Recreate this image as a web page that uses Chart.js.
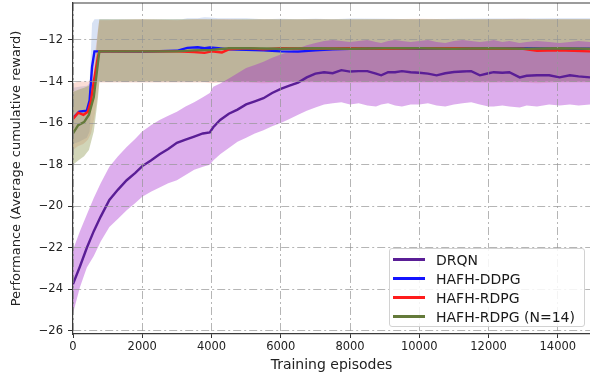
<!DOCTYPE html>
<html>
<head>
<meta charset="utf-8">
<script src="https://cdn.jsdelivr.net/npm/chart.js@4.4.1/dist/chart.umd.min.js"></script>
<style>
  body { margin: 0; background: #fff; }
  #wrap { position: relative; width: 590px; height: 377px; }
  #legend { position: absolute; left: 389px; top: 248px; width: 196px; height: 79px; box-sizing: border-box;
    border: 1px solid #d2d2d2; border-radius: 3px; background: rgba(255,255,255,0.85);
    font: 14px "DejaVu Sans", sans-serif; color: #1a1a1a; padding-top: 1px; }
  .item { height: 19px; display: flex; align-items: center; white-space: nowrap; }
  .swatch { width: 32px; height: 3px; margin-left: 3px; margin-right: 11px; }
</style>
</head>
<body>
<div id="wrap">
  <canvas id="chart" width="590" height="377"></canvas>
  <div id="legend"></div>
</div>
<script>
// values (episode -> average cumulative reward)

var drqnEpisodes = [0, 200, 400, 600, 800, 1050, 1300, 1550, 1800, 2000, 2250, 2500, 2750, 3000, 3250, 3500, 3750, 3950, 4050, 4250, 4500, 4750, 5000, 5250, 5500, 5750, 6000, 6250, 6500, 6750, 7000, 7250, 7500, 7750, 8000, 8250, 8500, 8750, 8900, 9100, 9300, 9500, 9750, 10000, 10250, 10500, 10750, 11000, 11250, 11500, 11750, 12000, 12150, 12400, 12600, 12900, 13100, 13400, 13750, 14050, 14350, 14600, 14930];
var drqnMean = [-23.75, -22.9, -22.0, -21.2, -20.5, -19.7, -19.2, -18.75, -18.4, -18.07, -17.8, -17.5, -17.25, -16.95, -16.8, -16.65, -16.5, -16.45, -16.2, -15.85, -15.55, -15.35, -15.1, -14.95, -14.8, -14.55, -14.35, -14.2, -14.05, -13.8, -13.62, -13.55, -13.6, -13.45, -13.52, -13.5, -13.5, -13.62, -13.7, -13.55, -13.55, -13.5, -13.55, -13.58, -13.62, -13.7, -13.6, -13.54, -13.52, -13.5, -13.7, -13.6, -13.55, -13.58, -13.55, -13.8, -13.72, -13.7, -13.7, -13.8, -13.7, -13.75, -13.8];
var drqnUpper = [-22.1, -21.2, -20.4, -19.6, -18.9, -18.1, -17.6, -17.15, -16.75, -16.4, -16.1, -15.85, -15.65, -15.45, -15.2, -15.0, -14.75, -14.55, -14.25, -14.1, -13.85, -13.6, -13.35, -13.2, -13.05, -12.85, -12.7, -12.55, -12.4, -12.25, -12.15, -12.05, -12.0, -12.05, -12.1, -12.05, -12.0, -12.1, -12.15, -12.05, -12.0, -12.05, -12.1, -12.05, -12.0, -12.1, -12.15, -12.05, -12.0, -12.05, -12.1, -12.05, -12.0, -12.1, -12.05, -12.15, -12.1, -12.05, -12.1, -12.15, -12.1, -12.05, -12.1];
var drqnLower = [-25.15, -23.9, -22.95, -22.4, -21.7, -21.0, -20.6, -20.2, -19.85, -19.55, -19.3, -19.1, -18.9, -18.75, -18.5, -18.25, -18.1, -18.0, -17.8, -17.5, -17.2, -16.9, -16.7, -16.5, -16.35, -16.15, -16.0, -15.8, -15.6, -15.4, -15.25, -15.1, -15.05, -15.0, -15.1, -15.05, -15.15, -15.2, -15.1, -15.05, -15.15, -15.2, -15.1, -15.1, -15.05, -15.15, -15.2, -15.1, -15.05, -15.0, -15.1, -15.2, -15.2, -15.15, -15.2, -15.25, -15.15, -15.2, -15.1, -15.15, -15.1, -15.15, -15.1];

var ddpgEpisodes = [0, 180, 400, 480, 550, 620, 1000, 2000, 3000, 3150, 3300, 3600, 3800, 3950, 4200, 4500, 5000, 5500, 6000, 6500, 7000, 7500, 8000, 9000, 10000, 11000, 12000, 13000, 14000, 14930];
var ddpgMean = [-15.75, -15.45, -15.4, -14.9, -13.3, -12.55, -12.55, -12.56, -12.52, -12.45, -12.38, -12.35, -12.4, -12.36, -12.4, -12.45, -12.47, -12.5, -12.55, -12.56, -12.5, -12.45, -12.42, -12.4, -12.42, -12.4, -12.42, -12.4, -12.42, -12.42];
var ddpgUpper = [-14.3, -14.25, -14.2, -14.1, -11.2, -11.0, -11.0, -11.02, -11.0, -11.0, -10.95, -10.95, -10.9, -10.92, -10.95, -10.95, -10.95, -11.0, -10.98, -11.0, -10.98, -11.0, -10.97, -10.98, -11.0, -10.98, -10.97, -10.96, -10.95, -10.95];
var ddpgLower = [-17.0, -16.9, -16.7, -16.4, -14.5, -14.0, -14.0, -14.0, -14.0, -14.02, -14.0, -13.98, -14.0, -14.0, -14.0, -13.98, -14.0, -14.0, -14.02, -14.0, -14.0, -14.0, -14.0, -14.0, -14.02, -14.0, -14.0, -14.0, -14.0, -14.0];

var rdpgEpisodes = [0, 150, 300, 430, 520, 610, 720, 760, 1000, 2000, 3000, 3500, 3800, 4000, 4300, 4500, 5000, 5500, 6000, 7000, 8000, 9000, 10000, 11000, 12000, 13000, 13400, 14000, 14930];
var rdpgMean = [-15.8, -15.5, -15.6, -15.45, -14.9, -13.9, -12.8, -12.55, -12.55, -12.55, -12.55, -12.58, -12.62, -12.55, -12.6, -12.45, -12.4, -12.45, -12.4, -12.42, -12.4, -12.42, -12.4, -12.4, -12.42, -12.42, -12.52, -12.5, -12.55];
var rdpgUpper = [-14.1, -14.0, -14.0, -14.0, -13.9, -13.0, -11.5, -11.05, -11.05, -11.0, -11.05, -11.0, -11.0, -11.02, -11.0, -11.0, -11.03, -11.0, -11.02, -11.0, -11.02, -11.0, -10.98, -11.0, -11.0, -10.98, -11.0, -11.0, -11.0];
var rdpgLower = [-17.3, -17.1, -17.0, -16.8, -16.5, -15.8, -14.6, -14.05, -14.05, -14.05, -14.05, -14.05, -14.05, -14.08, -14.05, -14.05, -14.05, -14.08, -14.05, -14.05, -14.06, -14.05, -14.05, -14.05, -14.06, -14.05, -14.08, -14.05, -14.05];

var n14Episodes = [0, 150, 320, 460, 600, 720, 760, 1000, 2000, 3000, 3500, 4000, 4500, 5000, 6000, 7000, 8000, 9000, 10000, 11000, 12000, 13000, 14000, 14930];
var n14Mean = [-16.5, -16.1, -15.95, -15.6, -14.75, -13.1, -12.55, -12.55, -12.55, -12.55, -12.5, -12.48, -12.4, -12.4, -12.42, -12.4, -12.42, -12.4, -12.4, -12.42, -12.4, -12.42, -12.4, -12.42];
var n14Upper = [-14.5, -14.4, -14.3, -14.2, -13.8, -11.6, -11.0, -11.0, -11.0, -11.0, -11.0, -11.0, -11.02, -11.0, -11.0, -11.0, -11.0, -11.0, -11.0, -11.0, -11.0, -11.0, -11.0, -11.0];
var n14Lower = [-18.0, -17.8, -17.6, -17.3, -16.4, -14.8, -14.0, -14.0, -14.0, -14.0, -14.0, -14.0, -14.0, -14.0, -14.0, -14.0, -14.0, -14.0, -14.0, -14.0, -14.0, -14.0, -14.0, -14.0];

var seriesNames = ["DRQN", "HAFH-DDPG", "HAFH-RDPG", "HAFH-RDPG (N=14)"];
var lineColors = ["#5a1e96", "#1414ff", "#ff1c1c", "#647a3a"];
var xTicks = [0, 2000, 4000, 6000, 8000, 10000, 12000, 14000];
var yTicks = [-26, -24, -22, -20, -18, -16, -14, -12];

function pts(xs, ys) {
    return xs.map(function (x, i) { return {x: x, y: ys[i]}; });
}

function line(i, xs, ys, order) {
    return {label: seriesNames[i], data: pts(xs, ys), borderColor: lineColors[i], backgroundColor: lineColors[i],
        borderWidth: 2.4, pointRadius: 0, fill: false, order: order};
}

function band(xs, ys, color, fill, order) {
    return {label: "", data: pts(xs, ys), borderColor: "transparent", borderWidth: 0, backgroundColor: color,
        pointRadius: 0, fill: fill, order: order};
}

var frame = {
    id: "frame",
    afterDraw: function (c) {
        var a = c.chartArea, ctx = c.ctx;
        ctx.save();
        ctx.strokeStyle = "#3a3a3a";
        ctx.lineWidth = 1.2;
        ctx.beginPath();
        ctx.moveTo(a.left, a.top);
        ctx.lineTo(a.right, a.top);
        ctx.stroke();
        ctx.restore();
    }
};

var font = "'DejaVu Sans', sans-serif";

var chart = new Chart(document.getElementById("chart").getContext("2d"), {
    type: "line",
    data: {
        datasets: [
            line(0, drqnEpisodes, drqnMean, 3),
            line(1, ddpgEpisodes, ddpgMean, 2),
            line(2, rdpgEpisodes, rdpgMean, 1),
            line(3, n14Episodes, n14Mean, 0),
            band(drqnEpisodes, drqnUpper, "rgba(160,30,205,0.36)", "+1", 4),
            band(drqnEpisodes, drqnLower, "transparent", false, 4),
            band(n14Episodes, n14Upper, "rgba(145,155,85,0.42)", "+1", 5),
            band(n14Episodes, n14Lower, "transparent", false, 5),
            band(rdpgEpisodes, rdpgUpper, "rgba(240,120,90,0.25)", "+1", 6),
            band(rdpgEpisodes, rdpgLower, "transparent", false, 6),
            band(ddpgEpisodes, ddpgUpper, "rgba(100,140,210,0.25)", "+1", 7),
            band(ddpgEpisodes, ddpgLower, "transparent", false, 7)
        ]
    },
    options: {
        responsive: false,
        animation: false,
        layout: {padding: {top: 3, right: 0, left: 0, bottom: 0}},
        plugins: {legend: {display: false}, tooltip: {enabled: false}},
        scales: {
            x: {
                type: "linear", min: 0, max: 14930,
                afterFit: function (s) { s.height = 43; s.paddingLeft = 0; s.paddingRight = 0; },
                afterBuildTicks: function (s) { s.ticks = xTicks.map(function (v) { return {value: v}; }); },
                ticks: {font: {family: font, size: 11.5}, color: "#222", padding: 2, maxRotation: 0,
                    callback: function (v) { return String(v); }},
                grid: {color: "rgba(150,150,150,0.7)", lineWidth: 1, tickLength: 4, tickColor: "#333", z: 1},
                border: {color: "#3a3a3a", width: 1.2, dash: [8, 3, 2, 3], z: 2},
                title: {display: true, text: "Training episodes", font: {family: font, size: 14}, color: "#222",
                    padding: {top: 0, bottom: 3}}
            },
            y: {
                type: "linear", min: -26.15, max: -10.22,
                afterFit: function (s) { s.width = 73; s.paddingTop = 0; s.paddingBottom = 0; },
                afterBuildTicks: function (s) { s.ticks = yTicks.map(function (v) { return {value: v}; }); },
                ticks: {font: {family: font, size: 11.5}, color: "#222", padding: 5,
                    callback: function (v) { return (v < 0 ? "\u2212" : "") + Math.abs(v); }},
                grid: {color: "rgba(150,150,150,0.7)", lineWidth: 1, tickLength: 5, tickColor: "#333", z: 1},
                border: {color: "#3a3a3a", width: 1.2, dash: [8, 3, 2, 3], z: 2},
                title: {display: true, text: "Performance (Average cumulative reward)", font: {family: font, size: 13},
                    color: "#222", padding: {top: 9, bottom: 0}}
            }
        }
    },
    plugins: [frame]
});

var legend = document.getElementById("legend");
chart.data.datasets.slice(0, 4).forEach(function (ds) {
    var row = document.createElement("div");
    row.className = "item";
    var sw = document.createElement("span");
    sw.className = "swatch";
    sw.style.background = ds.borderColor;
    var txt = document.createElement("span");
    txt.textContent = ds.label;
    row.appendChild(sw);
    row.appendChild(txt);
    legend.appendChild(row);
});
</script>
</body>
</html>
